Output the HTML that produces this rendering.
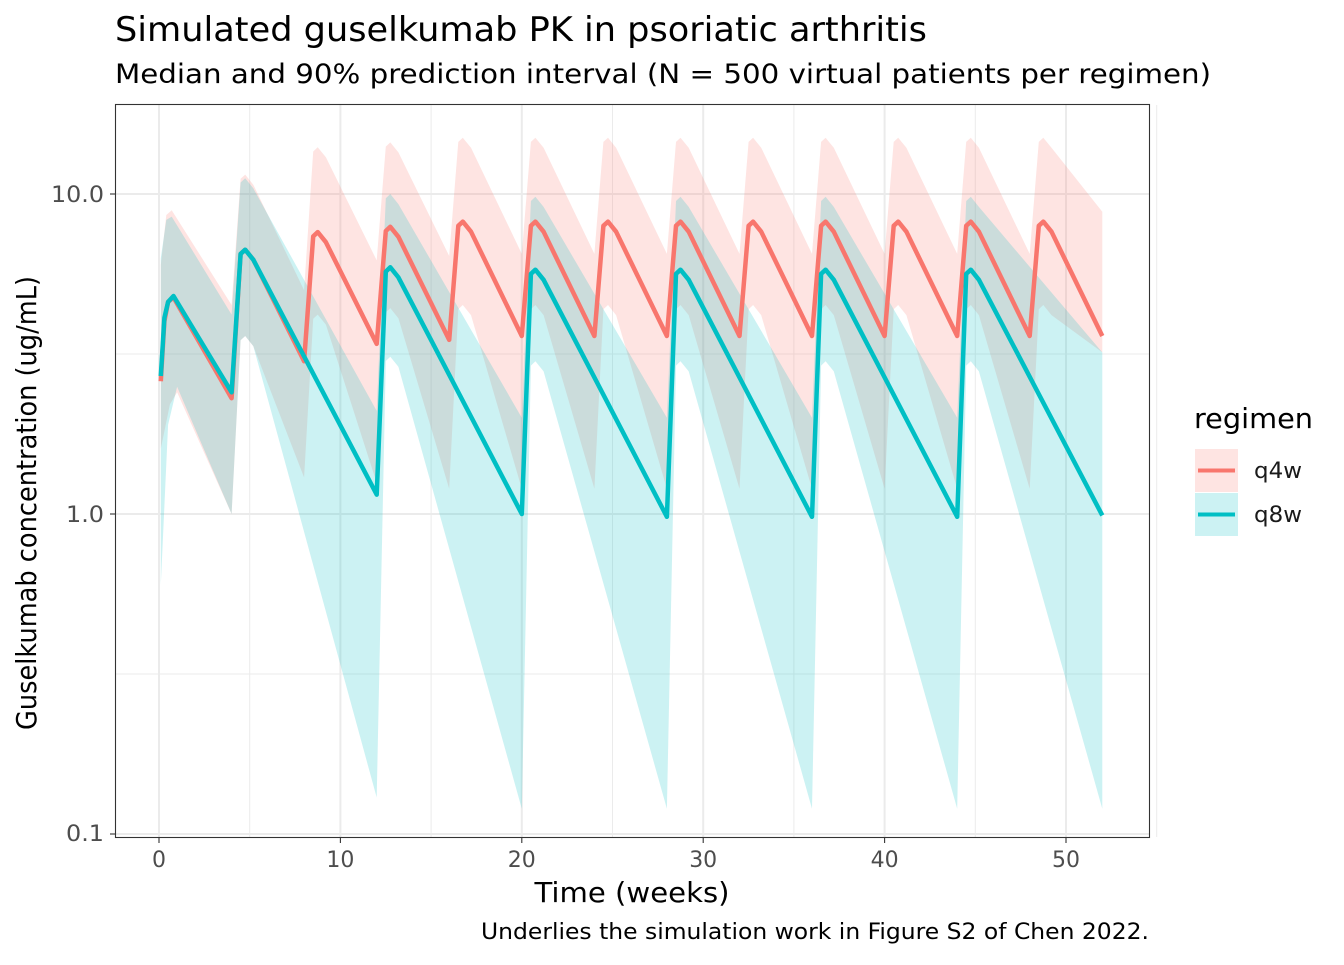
<!DOCTYPE html>
<html><head><meta charset="utf-8"><style>
body{margin:0;background:#fff;}
svg text{font-family:"DejaVu Sans","Liberation Sans",sans-serif;}
</style></head><body>
<svg id="s" width="1344" height="960" xmlns="http://www.w3.org/2000/svg">
<rect width="1344" height="960" fill="#fff"/>
<g id="grid"></g>
<g id="bands"></g>
<g id="lines"></g>
<rect x="115.5" y="104.5" width="1034" height="733" fill="none" stroke="#333" stroke-width="1.1"/>
<text x="115" y="41" font-size="34" textLength="812" lengthAdjust="spacingAndGlyphs">Simulated guselkumab PK in psoriatic arthritis</text>
<text x="115" y="83" font-size="27" textLength="1096" lengthAdjust="spacingAndGlyphs">Median and 90% prediction interval (N = 500 virtual patients per regimen)</text>
<g font-size="22" fill="#4d4d4d" text-anchor="end">
<text x="104" y="202" textLength="53" lengthAdjust="spacingAndGlyphs">10.0</text><text x="104" y="522" textLength="38" lengthAdjust="spacingAndGlyphs">1.0</text><text x="104" y="841" textLength="38" lengthAdjust="spacingAndGlyphs">0.1</text>
</g>
<g font-size="22" fill="#4d4d4d" text-anchor="middle">
<text x="159" y="867">0</text><text x="340.4" y="867">10</text><text x="521.8" y="867">20</text><text x="703.2" y="867">30</text><text x="884.6" y="867">40</text><text x="1066" y="867">50</text>
</g>
<text x="632" y="902" font-size="28" text-anchor="middle" textLength="195" lengthAdjust="spacingAndGlyphs">Time (weeks)</text>
<text transform="translate(36,503) rotate(-90)" font-size="28" text-anchor="middle" textLength="454" lengthAdjust="spacingAndGlyphs">Guselkumab concentration (ug/mL)</text>
<text x="1149" y="939" font-size="22" text-anchor="end" textLength="668" lengthAdjust="spacingAndGlyphs">Underlies the simulation work in Figure S2 of Chen 2022.</text>
<text x="1194" y="428" font-size="28" textLength="119" lengthAdjust="spacingAndGlyphs">regimen</text>
<rect x="1195" y="449" width="43" height="43" fill="#F8766D" fill-opacity="0.2"/>
<line x1="1198" y1="470.5" x2="1235" y2="470.5" stroke="#F8766D" stroke-width="4"/>
<rect x="1195" y="493" width="43" height="43" fill="#00BFC4" fill-opacity="0.2"/>
<line x1="1198" y1="514.5" x2="1235" y2="514.5" stroke="#00BFC4" stroke-width="4"/>
<text x="1254" y="478" font-size="22" fill="#1a1a1a" textLength="48" lengthAdjust="spacingAndGlyphs">q4w</text>
<text x="1254" y="522" font-size="22" fill="#1a1a1a" textLength="48" lengthAdjust="spacingAndGlyphs">q8w</text>
</svg>
<script>
const X=t=>159+18.14*t, Y=c=>514-320*Math.log10(c);
const ns="http://www.w3.org/2000/svg";
function add(g,tag,at){const e=document.createElementNS(ns,tag);for(const k in at)e.setAttribute(k,at[k]);document.getElementById(g).appendChild(e);}
for(let t=5;t<=55;t+=10) add("grid","line",{x1:X(t),x2:X(t),y1:105,y2:837,stroke:"#ebebeb","stroke-width":1});
for(const c of [Math.sqrt(10),Math.sqrt(0.1)]) add("grid","line",{x1:116,x2:1149,y1:Y(c),y2:Y(c),stroke:"#ebebeb","stroke-width":1});
for(let t=0;t<=50;t+=10) add("grid","line",{x1:X(t),x2:X(t),y1:105,y2:837,stroke:"#ebebeb","stroke-width":2});
for(const c of [10,1,0.1]) add("grid","line",{x1:116,x2:1149,y1:Y(c),y2:Y(c),stroke:"#ebebeb","stroke-width":2});
for(let t=0;t<=50;t+=10) add("grid","line",{x1:X(t),x2:X(t),y1:838,y2:843,stroke:"#333","stroke-width":1.1});
for(const c of [10,1,0.1]) add("grid","line",{x1:110,x2:115,y1:Y(c),y2:Y(c),stroke:"#333","stroke-width":1.1});
const pts=a=>a.map(p=>X(p[0]).toFixed(1)+","+Y(p[1]).toFixed(1)).join(" ");
function series(init, doses, peak, trough){
  const r=[...init];
  for(let i=0;i<doses.length;i++){
    const d=doses[i], next=i+1<doses.length?doses[i+1]:52;
    const p=peak(i), tr=trough(i);
    r.push([d+0.5,p*0.97]); r.push([d+0.75,p]); r.push([d+1.2,p*0.93]); r.push([next,tr]);
  }
  return r;
}
const q4d=[4,8,12,16,20,24,28,32,36,40,44,48], q8d=[4,12,20,28,36,44];
const q4U=series([[0.1,6],[0.4,8.6],[0.7,8.9],[4,4.5]],q4d,i=>[11.5,14,14.5,15,15,15,15,15,15,15,15,15][i],i=>[5,6.2,6.4,6.5,6.5,6.5,6.5,6.5,6.5,6.5,6.5,8.8][i]);
const q4L=series([[0.1,1.6],[0.6,2.2],[1,2.4],[4,1.0]],q4d,i=>[3.6,4.2,4.4,4.5,4.5,4.5,4.5,4.5,4.5,4.5,4.5,4.5][i],i=>[1.3,1.25,1.2,1.2,1.2,1.2,1.2,1.2,1.2,1.2,1.2,3.2][i]);
const q8U=series([[0.1,6.3],[0.4,8.3],[0.7,8.5],[4,4.2]],q8d,i=>[11.2,10,9.8,9.8,9.8,9.8][i],i=>[2.1,2.0,2.0,2.0,2.0,3.2][i]);
const q8L=series([[0.1,0.6],[0.5,1.9],[1,2.5],[4,1.0]],q8d,i=>[3.6,3.1,3.0,3.0,3.0,3.0][i],i=>[0.13,0.12,0.12,0.12,0.12,0.12][i]);
function band(U,L,col){add("bands","polygon",{points:pts(U)+" "+pts([...L].reverse()),fill:col,"fill-opacity":0.2});}
band(q4U,q4L,"#F8766D"); band(q8U,q8L,"#00BFC4");
const q4=series([[0.1,2.6],[0.3,4.0],[0.5,4.6],[0.8,4.75],[4,2.3]],q4d,i=>[6.7,7.6,7.9,8.2,8.2,8.2,8.2,8.2,8.2,8.2,8.2,8.2][i],i=>[3.0,3.4,3.5,3.6,3.6,3.6,3.6,3.6,3.6,3.6,3.6,3.6][i]);
const q8=series([[0.1,2.7],[0.3,4.1],[0.5,4.6],[0.8,4.8],[4,2.4]],q8d,i=>[6.7,5.9,5.8,5.8,5.8,5.8][i],i=>[1.15,1.0,0.98,0.98,0.98,0.99][i]);
add("lines","polyline",{points:pts(q4),fill:"none",stroke:"#F8766D","stroke-width":4.5,"stroke-linejoin":"round"});
add("lines","polyline",{points:pts(q8),fill:"none",stroke:"#00BFC4","stroke-width":4.5,"stroke-linejoin":"round"});
</script>
</body></html>
